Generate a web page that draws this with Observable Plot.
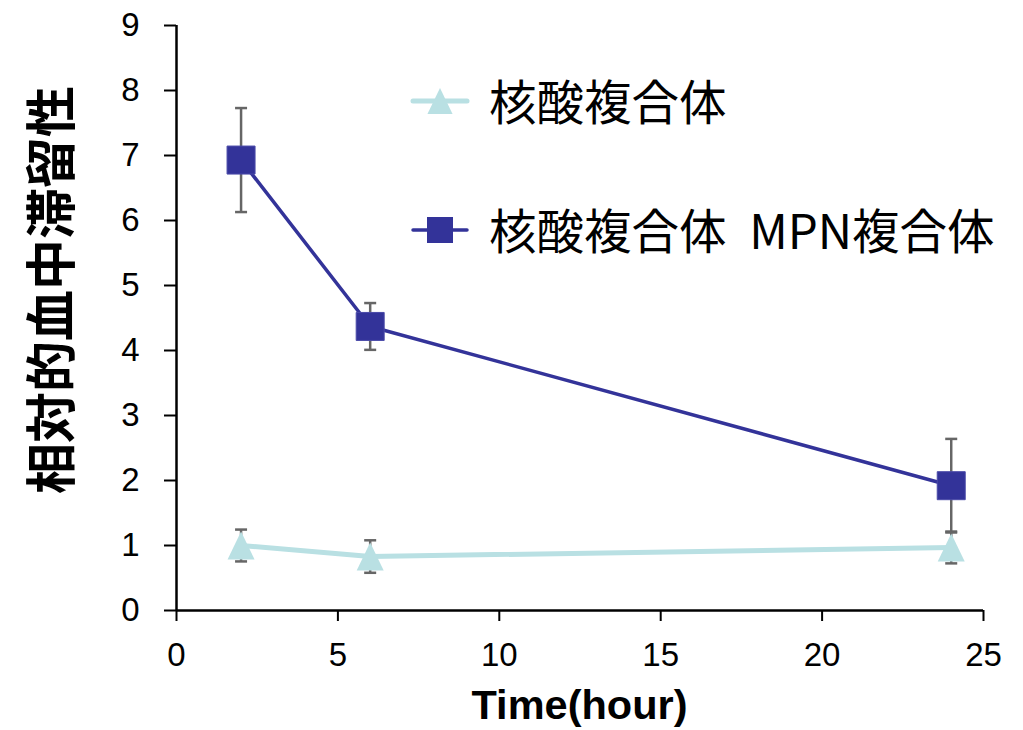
<!DOCTYPE html>
<html>
<head>
<meta charset="utf-8">
<script src="https://cdn.jsdelivr.net/npm/d3@7"></script>
<script src="https://cdn.jsdelivr.net/npm/@observablehq/plot@0.6"></script>
<style>
  html, body { margin: 0; padding: 0; background: #fff; }
  #chart svg { display: block; }
</style>
</head>
<body>
<div id="chart"></div>
<script>
// Sampling times (hours)
const times = [2, 6, 24];

// 核酸複合体: mean and error
const nucleicMean = [1.0, 0.83, 0.97];
const nucleicErr = [0.245, 0.25, 0.245];

// 核酸複合体 MPN複合体: mean and error
const mpnMean = [6.93, 4.37, 1.92];
const mpnErr = [0.8, 0.36, 0.72];

const seriesNames = ["核酸複合体", "核酸複合体 MPN複合体"];
const xTicks = [0, 5, 10, 15, 20, 25];
const yTicks = [0, 1, 2, 3, 4, 5, 6, 7, 8, 9];
const xTitle = "Time(hour)";
const yTitle = "相対的血中滞留性";

const teal = "#b9e0e3";
const navy = "#333399";
const errGray = "#666666";

// tall isosceles triangle marker
const triangleSym = {
  draw(ctx) {
    ctx.moveTo(0, -14);
    ctx.lineTo(13.5, 14);
    ctx.lineTo(-13.5, 14);
    ctx.closePath();
  }
};
const squareSym = { draw(ctx) { ctx.rect(-14, -14, 28, 28); } };
const capSym = { draw(ctx) { ctx.moveTo(-6, 0); ctx.lineTo(6, 0); } };

const nucleic = times.map((t, i) => ({ t, v: nucleicMean[i], lo: nucleicMean[i] - nucleicErr[i], hi: nucleicMean[i] + nucleicErr[i] }));
const mpn = times.map((t, i) => ({ t, v: mpnMean[i], lo: mpnMean[i] - mpnErr[i], hi: mpnMean[i] + mpnErr[i] }));
const caps = [...nucleic, ...mpn].flatMap(d => [{ t: d.t, v: d.lo }, { t: d.t, v: d.hi }]);
const bars = [...nucleic, ...mpn];

const plot = Plot.plot({
  width: 1023,
  height: 730,
  marginLeft: 176,
  marginRight: 40,
  marginTop: 25,
  marginBottom: 120,
  style: { fontFamily: "'Liberation Sans', Arial, sans-serif", fontSize: "33px", color: "#000", background: "#fff" },
  x: { domain: [0, 25] },
  y: { domain: [0, 9] },
  marks: [
    Plot.axisX({ ticks: xTicks, tickSize: 11, tickPadding: 21, fontSize: 33, label: null, strokeWidth: 2 }),
    Plot.axisY({ ticks: yTicks, tickSize: 12, tickPadding: 25, fontSize: 33, label: null, strokeWidth: 2 }),
    Plot.ruleY([0], { stroke: "#000", strokeWidth: 2.5 }),
    Plot.ruleX([0], { stroke: "#000", strokeWidth: 2.5 }),
    Plot.line(nucleic, { x: "t", y: "v", stroke: teal, strokeWidth: 5 }),
    Plot.line(mpn, { x: "t", y: "v", stroke: navy, strokeWidth: 3.5 }),
    Plot.ruleX(bars, { x: "t", y1: "lo", y2: "hi", stroke: errGray, strokeWidth: 2.5 }),
    Plot.dot(caps, { x: "t", y: "v", symbol: capSym, fill: "none", stroke: errGray, strokeWidth: 2.5 }),
    Plot.dot(nucleic, { x: "t", y: "v", symbol: triangleSym, fill: teal, stroke: "none" }),
    Plot.dot(mpn, { x: "t", y: "v", symbol: squareSym, fill: navy, stroke: "#4a4aa8", strokeWidth: 1 })
  ]
});

const svg = d3.select(plot);

// axis titles
svg.append("text")
  .attr("x", 579.5).attr("y", 719)
  .attr("text-anchor", "middle")
  .style("font-family", "'Liberation Sans', Arial, sans-serif")
  .style("font-size", "41.5px").style("font-weight", "bold")
  .attr("fill", "#000")
  .text(xTitle);

svg.append("text")
  .attr("transform", "translate(48,290) rotate(-90)")
  .attr("text-anchor", "middle")
  .attr("dominant-baseline", "central")
  .style("font-family", "'Noto Sans CJK JP', sans-serif")
  .style("font-size", "51px").style("font-weight", "bold")
  .attr("fill", "#000")
  .text(yTitle);

// legend
const legend = svg.append("g").attr("text-anchor", "start");
const legendItems = [
  { name: seriesNames[0], color: teal, width: 5, sym: triangleSym, y: 101 },
  { name: seriesNames[1], color: navy, width: 3.5, sym: squareSym, y: 230 }
];
legendItems.forEach(it => {
  legend.append("line")
    .attr("x1", 413).attr("x2", 467).attr("y1", it.y).attr("y2", it.y)
    .attr("stroke", it.color).attr("stroke-width", it.width).attr("stroke-linecap", "round");
  legend.append("path")
    .attr("transform", `translate(440,${it.y}) scale(0.93)`)
    .attr("d", d3.symbol(it.sym)())
    .attr("fill", it.color);
  legend.append("text")
    .attr("x", 489).attr("y", it.y - 2)
    .attr("text-anchor", "start")
    .attr("dominant-baseline", "central")
    .style("font-family", "'Noto Sans CJK JP', sans-serif")
    .style("font-size", "47.5px")
    .style("word-spacing", "12px")
    .attr("fill", "#000")
    .text(it.name);
});

document.getElementById("chart").appendChild(plot);
</script>
</body>
</html>
